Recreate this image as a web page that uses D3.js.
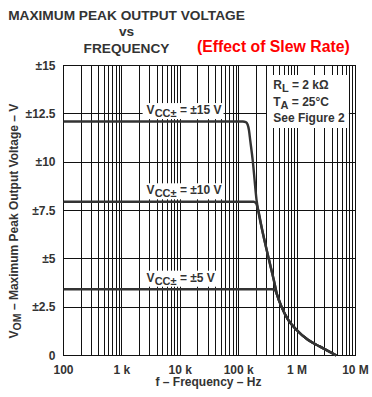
<!DOCTYPE html>
<html>
<head>
<meta charset="utf-8">
<script src="https://cdn.jsdelivr.net/npm/d3@7"></script>
<style>
  body { margin: 0; background: #fff; }
  svg { display: block; }
  text { font-family: "Liberation Sans", Arial, sans-serif; }
</style>
</head>
<body>
<div id="chart"></div>
<script>
// values
var freqTicks = [100, 1e3, 1e4, 1e5, 1e6, 1e7];
var freqTickLabels = ["100", "1 k", "10 k", "100 k", "1 M", "10 M"];
var voltTicks = [0, 2.5, 5, 7.5, 10, 12.5, 15];
var voltTickLabels = ["0", "±2.5", "±5", "±7.5", "±10", "±12.5", "±15"];
var supplyNames = ["±15 V", "±10 V", "±5 V"];
var supplyFlat = [12.1, 7.95, 3.43];

// [frequency Hz, peak output V]
var vcc15 = [[100, 12.1], [1e4, 12.1], [118e3, 12.1], [132e3, 12.07], [142e3, 11.95], [150e3, 11.65],
  [158e3, 11.1], [173e3, 10.15], [202e3, 8.05], [252e3, 6.5], [328e3, 4.99], [398e3, 3.92], [454e3, 3.14],
  [540e3, 2.53], [700e3, 1.85], [973e3, 1.33], [1.53e6, 0.81], [2.43e6, 0.47], [4.7e6, 0]];
var vcc10 = [[100, 7.95], [1e4, 7.95], [180e3, 7.95], [198e3, 7.88], [212e3, 7.62], [252e3, 6.5],
  [328e3, 4.99], [398e3, 3.92], [454e3, 3.14], [540e3, 2.53], [700e3, 1.85], [973e3, 1.33],
  [1.53e6, 0.81], [2.43e6, 0.47], [4.7e6, 0]];
var vcc5 = [[100, 3.43], [1e4, 3.43], [375e3, 3.43], [415e3, 3.38], [454e3, 3.14], [540e3, 2.53],
  [700e3, 1.85], [973e3, 1.33], [1.53e6, 0.81], [2.43e6, 0.47], [4.7e6, 0]];
var series = [vcc15, vcc10, vcc5];

var conditions = [["R", "L", " = 2 kΩ"], ["T", "A", " = 25°C"], ["See Figure 2", "", ""]];

var margin = { top: 65.5, left: 63.5 },
    width = 292,
    height = 290;

var svg = d3.select("#chart").append("svg")
    .attr("width", 372)
    .attr("height", 397);

// titles
var titleX = 126.5;
svg.append("text")
    .attr("x", titleX).attr("y", 19.5)
    .attr("text-anchor", "middle")
    .style("font-size", "13.7px").style("font-weight", "bold").style("fill", "#333")
    .text("MAXIMUM PEAK OUTPUT VOLTAGE");
svg.append("text")
    .attr("x", titleX).attr("y", 35.5)
    .attr("text-anchor", "middle")
    .style("font-size", "13.7px").style("font-weight", "bold").style("fill", "#333")
    .text("vs");
svg.append("text")
    .attr("x", titleX).attr("y", 52.5)
    .attr("text-anchor", "middle")
    .style("font-size", "13.7px").style("font-weight", "bold").style("fill", "#333")
    .text("FREQUENCY");
svg.append("text")
    .attr("x", 197).attr("y", 51.5)
    .style("font-size", "15.8px").style("font-weight", "bold").style("fill", "#f00")
    .text("(Effect of Slew Rate)");

var g = svg.append("g")
    .attr("transform", "translate(" + margin.left + "," + margin.top + ")");

var x = d3.scaleLog().domain([100, 1e7]).range([0, width]);
var y = d3.scaleLinear().domain([0, 15]).range([height, 0]);

// vertical grid: 1..9 in every decade
var minor = [];
for (var d = 100; d < 1e7; d *= 10) {
    for (var k = 1; k < 10; k++) minor.push(d * k);
}
minor.push(1e7);

g.append("g").selectAll("line")
    .data(minor)
    .join("line")
    .attr("x1", function (f) { return Math.round(x(f)); })
    .attr("x2", function (f) { return Math.round(x(f)); })
    .attr("y1", 0).attr("y2", height)
    .style("stroke", "#111").style("stroke-width", 1);

g.append("g").selectAll("line")
    .data(voltTicks)
    .join("line")
    .attr("x1", 0).attr("x2", width)
    .attr("y1", function (v) { return Math.round(y(v)); })
    .attr("y2", function (v) { return Math.round(y(v)); })
    .style("stroke", "#111").style("stroke-width", 1);

g.append("rect")
    .attr("width", width).attr("height", height)
    .style("fill", "none").style("stroke", "#111");

// tick labels
g.append("g").selectAll("text")
    .data(freqTicks)
    .join("text")
    .attr("x", function (f) { return x(f); })
    .attr("y", height + 18)
    .attr("text-anchor", "middle")
    .style("font-size", "12px").style("font-weight", "bold").style("fill", "#333")
    .text(function (f, i) { return freqTickLabels[i]; });

g.append("g").selectAll("text")
    .data(voltTicks)
    .join("text")
    .attr("x", -8)
    .attr("y", function (v) { return y(v); })
    .attr("dy", "0.35em")
    .attr("text-anchor", "end")
    .style("font-size", "12px").style("font-weight", "bold").style("fill", "#333")
    .text(function (v, i) { return voltTickLabels[i]; });

// axis titles
svg.append("text")
    .attr("x", margin.left + width / 2 - 1)
    .attr("y", 386)
    .attr("text-anchor", "middle")
    .style("font-size", "12px").style("font-weight", "bold").style("fill", "#333")
    .text("f – Frequency – Hz");

var yt = svg.append("text")
    .attr("transform", "translate(18," + 221 + ") rotate(-90)")
    .attr("text-anchor", "middle")
    .style("font-size", "12px").style("font-weight", "bold").style("fill", "#333");
yt.append("tspan").text("V");
yt.append("tspan").attr("dy", 3).style("font-size", "10.5px").text("OM");
yt.append("tspan").attr("dy", -3).text(" – Maximum Peak Output Voltage – V");

// curves
var line = d3.line()
    .x(function (p) { return x(p[0]); })
    .y(function (p) { return y(p[1]); })
    .curve(d3.curveMonotoneX);

g.append("g").selectAll("path")
    .data(series)
    .join("path")
    .attr("d", line)
    .style("fill", "none")
    .style("stroke", "#333")
    .style("stroke-width", 2.4)
    .style("stroke-linejoin", "round");

// supply labels with white boxes
var labelFreq = 2650;
supplyNames.forEach(function (name, i) {
    var lg = g.append("g");
    var t = lg.append("text")
        .attr("x", x(labelFreq))
        .attr("y", y(supplyFlat[i]) - 7.5)
        .style("font-size", "12px").style("font-weight", "bold").style("fill", "#333");
    t.append("tspan").text("V");
    t.append("tspan").attr("dy", 3).style("font-size", "11px").text("CC±");
    t.append("tspan").attr("dy", -3).text(" = " + name);
    var bb = t.node().getBBox();
    lg.insert("rect", "text")
        .attr("x", bb.x - 4).attr("y", bb.y)
        .attr("width", bb.width + 6).attr("height", bb.height)
        .style("fill", "#fff");
});

// conditions box
var cg = g.append("g");
var cx = x(3.9e5), cy0 = 23.5;
cg.append("rect")
    .attr("x", x(3.05e5)).attr("y", 9.5)
    .attr("width", x(7.7e6) - x(3.05e5))
    .attr("height", 53)
    .style("fill", "#fff");
conditions.forEach(function (c, i) {
    var t = cg.append("text")
        .attr("x", cx)
        .attr("y", cy0 + i * 16.5)
        .style("font-size", "12px").style("font-weight", "bold").style("fill", "#333");
    t.append("tspan").text(c[0]);
    if (c[1]) {
        t.append("tspan").attr("dy", 3).style("font-size", "11px").text(c[1]);
        t.append("tspan").attr("dy", -3).text(c[2]);
    }
});
</script>
</body>
</html>
